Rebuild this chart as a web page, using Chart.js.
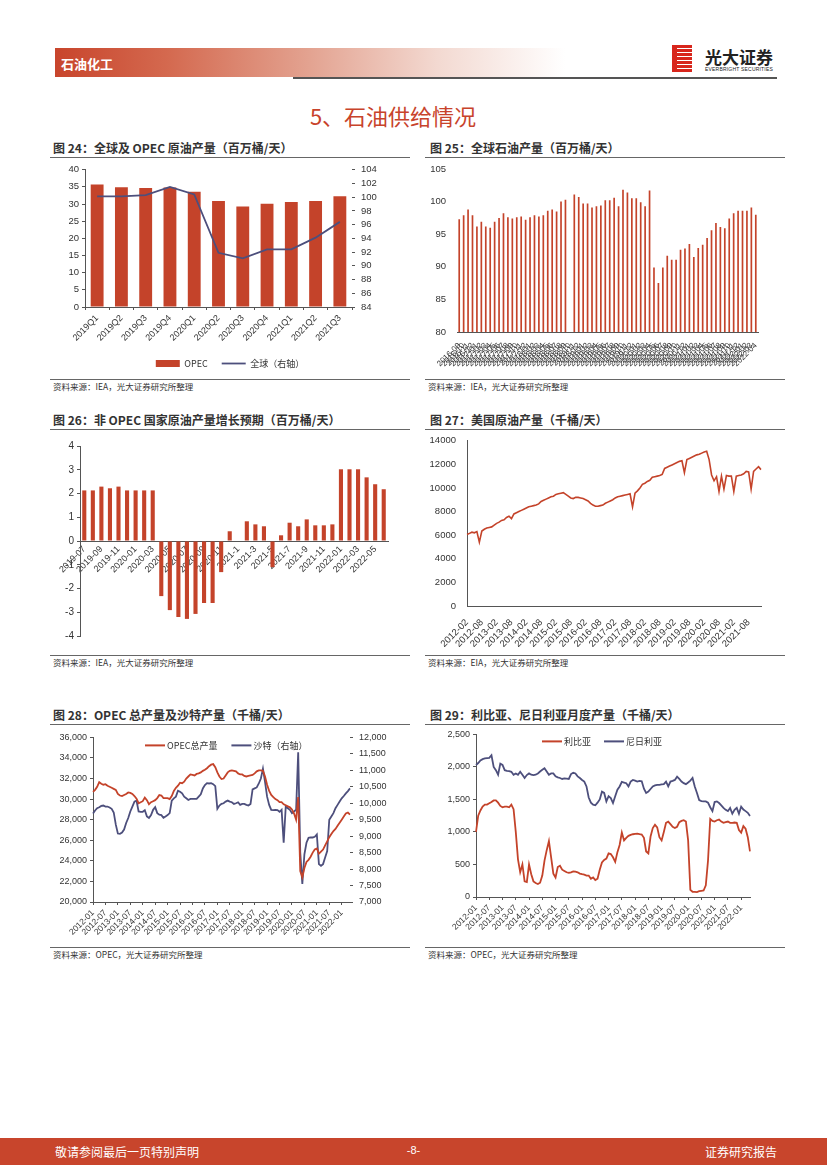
<!DOCTYPE html>
<html lang="zh">
<head>
<meta charset="UTF-8">
<title>石油供给情况</title>
<script src="https://cdn.jsdelivr.net/npm/chart.js@4.4.1/dist/chart.umd.min.js"></script>
<style>
  body { margin: 0; width: 827px; height: 1169px; position: relative; background: #fff;
         font-family: "Liberation Sans", "Noto Sans CJK SC", sans-serif; overflow: hidden; }
  .abs { position: absolute; }
  .band { left: 55px; top: 48px; width: 510px; height: 29px;
          background: linear-gradient(to right, #c8452c 0%, #d4694f 22%, #e3a391 50%, #f3d9d1 75%, #fff 100%); }
  .band span { position: absolute; left: 6px; top: 6px; color: #fff; font: bold 13px "Noto Sans CJK SC"; }
  .rule { background: #555; }
  .title { font: bold 12px "Noto Sans CJK SC"; color: #333; white-space: nowrap; }
  .src { font: 8.5px "Noto Sans CJK SC"; color: #333; white-space: nowrap; }
  .thin { height: 1px; background: #666; }
  canvas { position: absolute; }
</style>
</head>
<body>

<div class="abs band"><span>石油化工</span></div>
<div class="abs rule" style="left:293px;top:77px;width:484px;height:2px"></div>
<div class="abs" style="left:672px;top:45px;width:20px;height:27px;
     background:repeating-linear-gradient(to bottom,#d8261c 0 3px,#fff 3px 4px);border-left:5px solid #d8261c;box-sizing:border-box"></div>
<div class="abs" style="left:705px;top:44px;font:bold 17px 'Noto Sans CJK SC';color:#222">光大证券</div>
<div class="abs" style="left:705px;top:66px;font:5px 'Liberation Sans';color:#222;letter-spacing:0.2px">EVERBRIGHT SECURITIES</div>

<div class="abs" style="left:0;width:786px;top:99px;text-align:center;font:22px 'Noto Sans CJK SC';color:#c8432b">5、石油供给情况</div>

<!-- titles and sources -->
<div class="abs title" style="left:53px;top:139px">图 24：全球及 OPEC 原油产量（百万桶/天）</div>
<div class="abs thin" style="left:50px;top:157px;width:360px"></div>
<div class="abs title" style="left:430px;top:139px">图 25：全球石油产量（百万桶/天）</div>
<div class="abs thin" style="left:425px;top:157px;width:360px"></div>
<div class="abs thin" style="left:50px;top:379px;width:360px"></div>
<div class="abs src" style="left:53px;top:380px">资料来源：IEA，光大证券研究所整理</div>
<div class="abs thin" style="left:425px;top:379px;width:360px"></div>
<div class="abs src" style="left:428px;top:380px">资料来源：IEA，光大证券研究所整理</div>

<div class="abs title" style="left:53px;top:411px">图 26：非 OPEC 国家原油产量增长预期（百万桶/天）</div>
<div class="abs thin" style="left:50px;top:429px;width:360px"></div>
<div class="abs title" style="left:430px;top:411px">图 27：美国原油产量（千桶/天）</div>
<div class="abs thin" style="left:425px;top:429px;width:360px"></div>
<div class="abs thin" style="left:50px;top:655px;width:360px"></div>
<div class="abs src" style="left:53px;top:656px">资料来源：IEA，光大证券研究所整理</div>
<div class="abs thin" style="left:425px;top:655px;width:360px"></div>
<div class="abs src" style="left:428px;top:656px">资料来源：EIA，光大证券研究所整理</div>

<div class="abs title" style="left:53px;top:706px">图 28：OPEC 总产量及沙特产量（千桶/天）</div>
<div class="abs thin" style="left:50px;top:724px;width:360px"></div>
<div class="abs title" style="left:430px;top:706px">图 29：利比亚、尼日利亚月度产量（千桶/天）</div>
<div class="abs thin" style="left:425px;top:724px;width:360px"></div>
<div class="abs thin" style="left:50px;top:947px;width:360px"></div>
<div class="abs src" style="left:53px;top:948px">资料来源：OPEC，光大证券研究所整理</div>
<div class="abs thin" style="left:425px;top:947px;width:360px"></div>
<div class="abs src" style="left:428px;top:948px">资料来源：OPEC，光大证券研究所整理</div>

<canvas id="c24" style="left:50px;top:158px" width="360" height="220"></canvas>
<canvas id="c25" style="left:425px;top:158px" width="360" height="220"></canvas>
<canvas id="c26" style="left:50px;top:432px" width="360" height="215"></canvas>
<canvas id="c27" style="left:425px;top:432px" width="360" height="215"></canvas>
<canvas id="c28" style="left:50px;top:726px" width="360" height="218"></canvas>
<canvas id="c29" style="left:425px;top:726px" width="360" height="218"></canvas>

<div class="abs" style="left:0;top:1138px;width:827px;height:27px;background:#c8452c"></div>
<div class="abs" style="left:55px;top:1143px;font:12px 'Noto Sans CJK SC';color:#fff">敬请参阅最后一页特别声明</div>
<div class="abs" style="left:0;width:827px;top:1144px;text-align:center;font:11px 'Liberation Sans';color:#fff">-8-</div>
<div class="abs" style="right:50px;top:1143px;font:12px 'Noto Sans CJK SC';color:#fff">证券研究报告</div>

<script>
// ---------- data ----------
const quarters24 = ['2019Q1','2019Q2','2019Q3','2019Q4','2020Q1','2020Q2','2020Q3','2020Q4','2021Q1','2021Q2','2021Q3'];
const opec24 = [35.7, 34.9, 34.7, 34.8, 33.6, 30.9, 29.3, 30.1, 30.6, 30.9, 32.3];
const global24 = [100.1, 100.1, 100.3, 101.5, 100.4, 91.9, 91.1, 92.4, 92.4, 94.1, 96.4];

const supply25 = [97.3, 97.9, 98.8, 97.9, 96.2, 96.9, 96.2, 96.0, 96.9, 97.5,
  98.2, 97.6, 97.4, 97.6, 97.7, 97.2, 97.6, 97.9, 97.7, 97.9,
  98.6, 98.8, 98.5, 100.0, 100.3, null, 101.1, 100.7, 99.7, 99.7,
  99.1, 99.3, 99.4, 100.2, 100.2, 100.6, 99.3, 101.8, 101.4, 100.5,
  100.5, 99.9, 99.3, 101.7, 89.9, 87.5, 89.9, 91.7, 91.1, 91.1,
  92.6, 92.8, 93.5, 91.5, 92.9, 93.4, 94.4, 95.6, 96.7, 96.1,
  95.9, 97.4, 98.2, 98.6, 98.6, 98.6, 99.1, 98.0];

const months26 = ['2019-07','2019-08','2019-09','2019-10','2019-11','2019-12','2020-01','2020-02','2020-03','2020-04',
  '2020-05','2020-06','2020-07','2020-08','2020-09','2020-10','2020-11','2020-12','2021-1','2021-2',
  '2021-3','2021-4','2021-5','2021-6','2021-7','2021-8','2021-9','2021-10','2021-11','2021-12',
  '2022-01','2022-02','2022-03','2022-04','2022-05','2022-06'];
const growth26 = [2.13, 2.13, 2.29, 2.22, 2.29, 2.13, 2.13, 2.13, 2.13, -2.32,
  -2.91, -3.2, -3.28, -3.07, -2.61, -2.61, -1.31, 0.41, 0, 0.83,
  0.70, 0.62, -1.1, 0.24, 0.77, 0.62, 0.91, 0.66, 0.66, 0.70,
  3.02, 3.02, 3.02, 2.68, 2.39, 2.18];

const us27 = [6050, 6150, 6250, 6200, 6300, 5400, 6350, 6500, 6600, 6650,
  6700, 6850, 7000, 7100, 7250, 7300, 7500, 7600, 7400, 7800,
  7900, 8000, 8100, 8200, 8300, 8400, 8450, 8500, 8550, 8650,
  8850, 8950, 9050, 9150, 9250, 9300, 9450, 9500, 9550, 9600,
  9450, 9300, 9150, 9100, 9200, 9200, 9150, 9100, 9000, 8900,
  8700, 8550, 8450, 8450, 8500, 8550, 8700, 8800, 8900, 9000,
  9150, 9250, 9300, 9350, 9400, 9450, 9500, 8400, 9550, 9750,
  10000, 10300, 10400, 10550, 10650, 10900, 10950, 11000, 11050, 11150,
  11650, 11750, 11850, 11950, 12050, 12150, 12250, 12300, 11300, 12400,
  12500, 12600, 12700, 12800, 12850, 12950, 13050, 13100, 12400, 11100,
  10600, 10950, 9700, 11000, 9900, 11050, 11000, 11000, 9700, 11000,
  11050, 11100, 11200, 11400, 11350, 9900, 11400, 11600, 11800, 11550];

const opec28 = [
  30700, 30900, 31200, 31650, 31500, 31400, 31450, 31300, 31200, 31100, 31000, 30900,
  30500, 30350, 30300, 30400, 30500, 30650, 30600, 30500, 30300, 30050, 29600, 29700,
  29800, 30150, 29900, 29500, 29700, 29800, 29900, 30100, 30400, 30350, 30100, 30100,
  30100, 30000, 30300, 30800, 31100, 31300, 31600, 31550, 31700, 32000, 32200, 32400,
  32350, 32300, 32450, 32500, 32600, 32750, 32850, 33000, 33200, 33350, 33400, 33100,
  32600, 32200, 31950, 32000, 32300, 32600, 32750, 32800, 32750, 32700, 32500, 32400,
  32400, 32250, 32200, 32250, 32300, 32350, 32500, 32700, 32800, 32800, 32750, 32200,
  31400, 30800, 30400, 30200, 30000, 29900, 29700, 29700, 29500, 29400, 29300, 29200,
  29000, 28600, 28000, 30200, 23000, 22400, 23300, 23900, 24100, 24400, 24800, 25100,
  25200, 24700, 24900, 25100, 25500, 25900, 26300, 26600, 26900, 27100, 27400, 27700,
  28000, 28300, 28600, 28700, 28500];
const saudi28 = [
  9690, 9780, 9850, 9880, 9920, 9930, 9900, 9900, 9870, 9830, 9720, 9350,
  9080, 9070, 9110, 9200, 9400, 9550, 9750, 9900, 10050, 10080, 9750, 9740,
  9740, 9790, 9600, 9550, 9640, 9800, 9880, 9700, 9650, 9640, 9560, 9600,
  9640, 9700, 10080, 10150, 10200, 10380, 10350, 10300, 10200, 10150, 10100, 10130,
  10130, 10130, 10130, 10200, 10270, 10450, 10550, 10610, 10600, 10610, 10580, 10520,
  9830, 9930, 9980, 10000, 10050, 10080, 10050, 10030, 9980, 10000, 10030, 9950,
  9980, 9980, 9950, 9930, 9980, 10420, 10450, 10480, 10600, 10750, 11050, 10650,
  10200, 9950, 9800, 9790, 9800, 9790, 9740, 9800, 8800, 9900, 9850, 9800,
  9700, 9750, 9800, 11550, 8500, 7550, 8450, 8800, 8950, 8960, 8960, 8980,
  9050, 8150, 8100, 8150, 8350, 8550, 9500, 9600, 9700, 9850, 9950, 10050,
  10150, 10220, 10300, 10370, 10450];

const libya29 = [
  1000, 1250, 1330, 1390, 1420, 1420, 1440, 1460, 1485, 1485, 1450, 1400,
  1380, 1390, 1390, 1380, 1420, 1350, 1000, 580, 380, 500, 240, 230,
  500, 350, 240, 215, 200, 220, 330, 560, 720, 860, 610, 360,
  300, 460, 480, 420, 400, 380, 370, 380, 395, 390, 380, 360,
  350, 345, 330, 330, 280, 300, 260, 280, 420, 530, 570, 590,
  670, 660, 610, 540, 690, 800, 990, 870, 910, 940, 955, 965,
  970, 975, 965, 960, 910, 700, 670, 930, 1060, 1110, 1070, 920,
  870, 1000, 1140, 1160, 1120, 1080, 1060, 1080, 1150, 1170, 1180, 1160,
  870, 110, 80, 80, 76, 90, 95, 100, 180, 560, 1200, 1170,
  1160, 1180, 1190, 1160, 1140, 1150, 1160, 1140, 1140, 1145, 1140, 1030,
  990, 1090, 1050, 920, 700];
const nigeria29 = [
  2030, 2060, 2100, 2120, 2130, 2135, 2140, 2180, 2000, 1950, 1880, 2050,
  2030, 1950, 1940, 1935, 1925, 1880, 1900, 1880, 1925, 1880, 1830, 1875,
  1900, 1880, 1875, 1880, 1900, 1930, 1955, 1980, 1930, 1880, 1900, 1900,
  1855, 1840, 1830, 1815, 1825, 1820, 1815, 1890, 1910, 1900, 1855, 1830,
  1800, 1775, 1700, 1530, 1450, 1420, 1410, 1450, 1500, 1620, 1600, 1470,
  1550, 1520, 1445, 1550, 1650, 1700, 1770, 1760, 1750, 1700, 1775, 1800,
  1790, 1775, 1785, 1780, 1665, 1600, 1620, 1660, 1700, 1715, 1725, 1725,
  1730, 1735, 1775, 1700, 1775, 1785, 1800, 1850, 1815, 1775, 1750, 1735,
  1760, 1790, 1830, 1700, 1600, 1490, 1475, 1470, 1470, 1450, 1380, 1320,
  1460, 1470, 1445, 1410, 1370, 1340, 1320, 1370, 1280, 1340, 1370, 1280,
  1390, 1345, 1320, 1295, 1245];

// month labels like 2012-01
function monthLabels(year, month, n) {
  const out = [];
  for (let i = 0; i < n; i++) {
    const t = year * 12 + (month - 1) + i;
    out.push(Math.floor(t / 12) + '-' + String(t % 12 + 1).padStart(2, '0'));
  }
  return out;
}
const months25 = monthLabels(2016, 9, supply25.length);
const months27 = monthLabels(2012, 2, us27.length);
const months28 = monthLabels(2012, 1, opec28.length);
const months29 = monthLabels(2012, 1, libya29.length);

// ---------- styles ----------
const RED = '#c4432a';
const NAVY = '#4d4f7c';
const AXIS = '#555';
const TXT = '#333';
const NUM = 'Liberation Sans';
const CJK = 'Noto Sans CJK SC';
Chart.defaults.animation = false;
Chart.defaults.responsive = false;
Chart.defaults.color = TXT;
Chart.defaults.font.family = NUM + ', ' + CJK;
Chart.defaults.font.size = 9;
Chart.defaults.plugins.tooltip.enabled = false;

function fixW(w) { return s => { s.width = w; }; }
function fixH(h) { return s => { s.height = h; }; }
function every(n, labels) { return (v, i) => (i % n === 0 ? labels[i] : null); }
const noGrid = { display: false };
const tickGrid = { drawOnChartArea: false, drawTicks: true, tickLength: 3, color: AXIS };
const border = { display: true, color: AXIS, width: 1 };

// legend drawn inside the plot area, one row, starting at a given x offset
const innerLegend = {
  id: 'innerLegend',
  afterDraw(chart, args, opts) {
    const ctx = chart.ctx;
    const y = chart.chartArea.top + opts.dy;
    let x = chart.chartArea.left + opts.dx;
    ctx.save();
    ctx.font = '9px ' + CJK;
    ctx.textBaseline = 'middle';
    chart.data.datasets.forEach(ds => {
      ctx.strokeStyle = ds.borderColor;
      ctx.lineWidth = 2;
      ctx.beginPath(); ctx.moveTo(x, y); ctx.lineTo(x + 20, y); ctx.stroke();
      ctx.fillStyle = TXT;
      ctx.fillText(ds.label, x + 22, y);
      x += 22 + ctx.measureText(ds.label).width + opts.gap;
    });
    ctx.restore();
  }
};

// ---------- chart 24 ----------
new Chart(document.getElementById('c24'), {
  type: 'bar',
  data: {
    labels: quarters24,
    datasets: [
      { type: 'line', label: '全球（右轴）', data: global24, yAxisID: 'y1', borderColor: NAVY, backgroundColor: NAVY,
        borderWidth: 1.8, pointRadius: 0, pointStyle: 'line', tension: 0, order: 0 },
      { label: 'OPEC', data: opec24, backgroundColor: RED, pointStyle: 'rect', barPercentage: 0.53, categoryPercentage: 1, order: 1 }
    ]
  },
  options: {
    layout: { padding: { top: 10, left: 0, right: 0, bottom: 0 } },
    plugins: {
      legend: { position: 'bottom', reverse: true,
        labels: { usePointStyle: true, pointStyleWidth: 24, boxHeight: 7, padding: 14, font: { size: 9, family: CJK } } }
    },
    scales: {
      x: { grid: { drawOnChartArea: false, drawTicks: true, tickLength: 3, color: AXIS }, border,
           ticks: { minRotation: 45, maxRotation: 45, font: { size: 9 } }, afterFit: fixH(38) },
      y: { min: 0, max: 40, ticks: { stepSize: 5, autoSkip: false, font: { size: 9.5 } }, grid: tickGrid, border, afterFit: fixW(35) },
      y1: { position: 'right', min: 84, max: 104, ticks: { stepSize: 2, autoSkip: false, font: { size: 9.5 }, padding: 6 },
            grid: tickGrid, border: { display: false }, afterFit: fixW(58) }
    }
  }
});

// ---------- chart 25 ----------
new Chart(document.getElementById('c25'), {
  type: 'bar',
  data: { labels: months25, datasets: [{ label: '全球石油产量', data: supply25, backgroundColor: RED, barPercentage: 0.38, categoryPercentage: 1 }] },
  options: {
    layout: { padding: { top: 11, right: 27 } },
    plugins: { legend: { display: false } },
    scales: {
      x: { grid: noGrid, border, ticks: { autoSkip: false, minRotation: 45, maxRotation: 45, font: { size: 8 }, padding: 1 },
           afterFit: fixH(46) },
      y: { min: 80, max: 105, ticks: { stepSize: 5, font: { size: 9.5 } }, grid: noGrid, border: { display: false },
           afterFit: fixW(32) }
    }
  }
});

// ---------- chart 26 ----------
new Chart(document.getElementById('c26'), {
  type: 'bar',
  data: { labels: months26, datasets: [{ label: '非OPEC', data: growth26, backgroundColor: RED, barPercentage: 0.48, categoryPercentage: 1 }] },
  options: {
    layout: { padding: { top: 14, right: 22, bottom: 11 } },
    plugins: { legend: { display: false } },
    scales: {
      x: { position: { y: 0 }, z: 1, grid: { drawOnChartArea: false, drawTicks: false }, border,
           ticks: { autoSkip: false, minRotation: 45, maxRotation: 45, font: { size: 9 }, callback: every(2, months26) } },
      y: { min: -4, max: 4, ticks: { stepSize: 1, font: { size: 10 } }, grid: tickGrid, border, afterFit: fixW(30) }
    }
  }
});

// ---------- chart 27 ----------
new Chart(document.getElementById('c27'), {
  type: 'line',
  data: { labels: months27, datasets: [{ label: '美国原油产量', data: us27, borderColor: RED, borderWidth: 1.6, pointRadius: 0, tension: 0 }] },
  options: {
    layout: { padding: { top: 1, right: 24 } },
    plugins: { legend: { display: false } },
    scales: {
      x: { grid: noGrid, border, ticks: { autoSkip: false, minRotation: 45, maxRotation: 45, font: { size: 9.5 }, callback: every(6, months27) },
           afterFit: fixH(41) },
      y: { min: 0, max: 14000, ticks: { stepSize: 2000, font: { size: 9.5 }, callback: v => String(v) },
           grid: noGrid, border, afterFit: fixW(42) }
    }
  }
});

// ---------- chart 28 ----------
new Chart(document.getElementById('c28'), {
  type: 'line',
  data: {
    labels: months28,
    datasets: [
      { label: 'OPEC总产量', data: opec28, borderColor: RED, backgroundColor: RED, borderWidth: 1.8, pointRadius: 0, tension: 0 },
      { label: '沙特（右轴）', data: saudi28, yAxisID: 'y1', borderColor: NAVY, backgroundColor: NAVY, borderWidth: 1.8, pointRadius: 0, tension: 0 }
    ]
  },
  plugins: [innerLegend],
  options: {
    layout: { padding: { top: 5 } },
    plugins: {
      legend: { display: false },
      innerLegend: { dx: 52, dy: 8, gap: 14 }
    },
    scales: {
      x: { grid: { drawOnChartArea: false, drawTicks: true, tickLength: 3, color: AXIS }, border,
           ticks: { autoSkip: false, minRotation: 45, maxRotation: 45, font: { size: 8.5 }, callback: every(6, months28) },
           afterFit: fixH(42) },
      y: { min: 20000, max: 36000, ticks: { stepSize: 2000, font: { size: 9 } }, grid: tickGrid, border, afterFit: fixW(43) },
      y1: { position: 'right', min: 7000, max: 12000, ticks: { stepSize: 500, autoSkip: false, font: { size: 9 }, padding: 6 },
            grid: tickGrid, border: { display: false }, afterFit: fixW(60) }
    }
  }
});

// ---------- chart 29 ----------
new Chart(document.getElementById('c29'), {
  type: 'line',
  data: {
    labels: months29,
    datasets: [
      { label: '利比亚', data: libya29, borderColor: RED, backgroundColor: RED, borderWidth: 1.8, pointRadius: 0, tension: 0 },
      { label: '尼日利亚', data: nigeria29, borderColor: NAVY, backgroundColor: NAVY, borderWidth: 1.8, pointRadius: 0, tension: 0 }
    ]
  },
  plugins: [innerLegend],
  options: {
    layout: { padding: { top: 6, right: 35 } },
    plugins: {
      legend: { display: false },
      innerLegend: { dx: 66, dy: 7, gap: 13 }
    },
    scales: {
      x: { grid: { drawOnChartArea: false, drawTicks: true, tickLength: 3, color: AXIS }, border,
           ticks: { autoSkip: false, minRotation: 45, maxRotation: 45, font: { size: 8.5 }, callback: every(6, months29) },
           afterFit: fixH(47) },
      y: { min: 0, max: 2500, ticks: { stepSize: 500, font: { size: 9 } }, grid: tickGrid, border, afterFit: fixW(51) }
    }
  }
});
</script>
</body>
</html>
